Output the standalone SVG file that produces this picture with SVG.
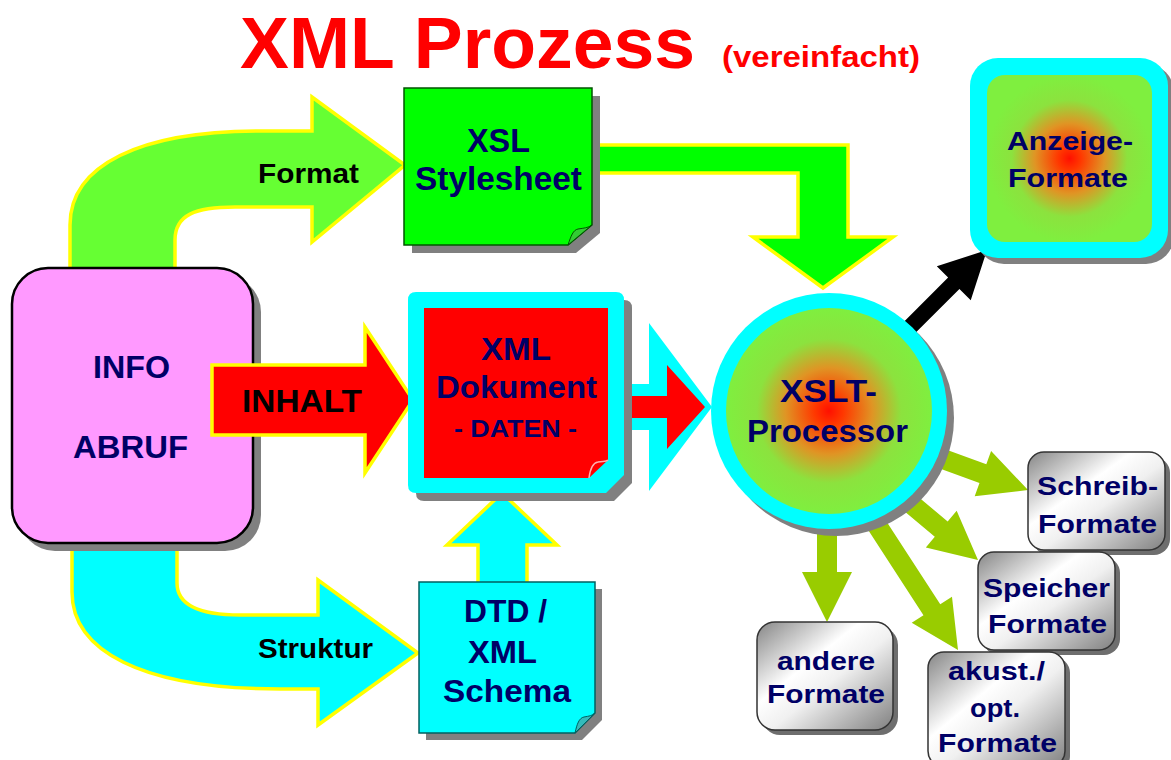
<svg xmlns="http://www.w3.org/2000/svg" width="1171" height="760" viewBox="0 0 1171 760">
<defs>
<style>
.t{font-family:"Liberation Sans",Arial,sans-serif;font-weight:bold;}
.navy{fill:#000066}
.blk{fill:#000000}
.arr{stroke:#FFFF00;stroke-width:3.5;stroke-linejoin:miter}
.sh{fill:#808080}
.gbox{fill:url(#gray);stroke:#333333;stroke-width:1.5}
.gsh{fill:#6e6e6e}
.garr{fill:#99CC00}
</style>
<radialGradient id="rg" cx="0.5" cy="0.5" r="0.5">
<stop offset="0" stop-color="#FF1000"/>
<stop offset="0.14" stop-color="#FF3800"/>
<stop offset="0.42" stop-color="#E09424"/>
<stop offset="0.7" stop-color="#8CE23E"/>
<stop offset="1" stop-color="#7FEF3F"/>
</radialGradient>
<linearGradient id="gray" x1="0" y1="0" x2="1" y2="1">
<stop offset="0" stop-color="#858585"/>
<stop offset="0.38" stop-color="#ffffff"/>
<stop offset="0.55" stop-color="#f0f0f0"/>
<stop offset="1" stop-color="#808080"/>
</linearGradient>
</defs>
<rect width="1171" height="760" fill="#ffffff"/>

<g id="title">
<text class="t" x="240" y="68" font-size="73" fill="#FF0000" textLength="455" lengthAdjust="spacingAndGlyphs">XML Prozess</text>
<text class="t" x="722" y="67" font-size="30" fill="#FF0000" textLength="198" lengthAdjust="spacingAndGlyphs">(vereinfacht)</text>
</g>

<g id="connectors">
<!-- Format -->
<path class="arr" fill="#66FF33" d="M70,272 L70,225 C70,165 140,131 260,131 L312,131 L312,97 L405,165 L312,242 L312,207 L235,207 C195,207 175,215 175,240 L175,272 Z"/>
<text class="t blk" x="258" y="183" font-size="27" textLength="101" lengthAdjust="spacingAndGlyphs">Format</text>
<!-- Struktur -->
<path class="arr" fill="#00FFFF" d="M72,540 L72,592 C72,650 140,689 280,689 L318,689 L318,725 L418,653 L318,580 L318,615 L240,615 C200,615 177,605 177,583 L177,540 Z"/>
<text class="t blk" x="258" y="658" font-size="27" textLength="115" lengthAdjust="spacingAndGlyphs">Struktur</text>
<!-- Stylesheet to processor -->
<path class="arr" fill="#00FF00" d="M598,145 L848,145 L848,237 L893,237 L823,288 L753,237 L798,237 L798,173 L598,173 Z"/>
<!-- DTD up to XML doc -->
<path class="arr" fill="#00FFFF" d="M478,584 L478,545 L447,545 L502,493 L557,545 L527,545 L527,584 Z"/>
<!-- Doc to processor -->
<path fill="#00FFFF" d="M620,384 L649,384 L649,323 L712,407 L649,491 L649,430 L620,430 Z"/>
<path fill="#FF0000" d="M620,396 L667,396 L667,365 L705,407 L667,449 L667,418 L620,418 Z"/>
<!-- output arrows -->
<path class="garr" transform="translate(1028,490) rotate(20)" d="M-110,-10 H-48 V-24 L0,0 L-48,24 V10 H-110 Z"/>
<path class="garr" transform="translate(978,560) rotate(40)" d="M-115,-10 H-48 V-24 L0,0 L-48,24 V10 H-115 Z"/>
<path class="garr" transform="translate(958,650) rotate(57)" d="M-165,-10 H-48 V-24 L0,0 L-48,24 V10 H-165 Z"/>
<path class="garr" transform="translate(827,622) rotate(90)" d="M-100,-10 H-50 V-25 L0,0 L-50,25 V10 H-100 Z"/>
<path fill="#000000" transform="translate(987,250) rotate(-45)" d="M-125,-8 H-47 V-24 L0,0 L-47,24 V8 H-125 Z"/>
</g>

<g id="info">
<rect class="sh" x="19" y="276" width="242" height="275" rx="36"/>
<rect x="12" y="268" width="241" height="275" rx="36" fill="#FF99FF" stroke="#000000" stroke-width="2.5"/>
<text class="t navy" x="93" y="378" font-size="31" textLength="77" lengthAdjust="spacingAndGlyphs">INFO</text>
<text class="t navy" x="73" y="458" font-size="31" textLength="115" lengthAdjust="spacingAndGlyphs">ABRUF</text>
</g>

<g id="inhalt">
<path class="arr" fill="#FF0000" d="M212,365 L365,365 L365,327 L413,400 L365,473 L365,435 L212,435 Z"/>
<text class="t blk" x="242" y="412" font-size="32" textLength="120" lengthAdjust="spacingAndGlyphs">INHALT</text>
</g>

<g id="xsl">
<path class="sh" d="M412,96 H600 V233 L576,253 H412 Z"/>
<path d="M404,88 H592 V225 L568,245 H404 Z" fill="#00FF00" stroke="#005500" stroke-width="1.5"/>
<path d="M568,245 C571,236 573,230 578,229 C584,228 588,228 592,225 Z" fill="#33CC33" stroke="#005500" stroke-width="1"/>
<text class="t navy" x="467" y="152" font-size="33" textLength="63" lengthAdjust="spacingAndGlyphs">XSL</text>
<text class="t navy" x="415" y="190" font-size="33" textLength="167" lengthAdjust="spacingAndGlyphs">Stylesheet</text>
</g>

<g id="xmldoc">
<path class="sh" d="M424,300 H624 Q632,300 632,308 V483 L614,501 H424 Q416,501 416,493 V308 Q416,300 424,300 Z"/>
<path d="M416,292 H616 Q624,292 624,300 V475 L606,493 H416 Q408,493 408,485 V300 Q408,292 416,292 Z" fill="#00FFFF"/>
<path d="M424,308 H608 V460 L589,478 H424 Z" fill="#FF0000"/>
<path d="M589,478 C590,470 592,463 598,462 C603,461 606,462 608,460" fill="none" stroke="#FFB0B0" stroke-width="1.5"/>
<text class="t navy" x="481" y="360" font-size="31" textLength="70" lengthAdjust="spacingAndGlyphs">XML</text>
<text class="t navy" x="436" y="398" font-size="31" textLength="161" lengthAdjust="spacingAndGlyphs">Dokument</text>
<text class="t navy" x="454" y="437" font-size="24" textLength="123" lengthAdjust="spacingAndGlyphs">- DATEN -</text>
</g>

<g id="dtd">
<path class="sh" d="M426,589 H602 V720 L582,740 H426 Z"/>
<path d="M419,582 H595 V713 L575,733 H419 Z" fill="#00FFFF" stroke="#006060" stroke-width="1.5"/>
<path d="M575,733 C577,724 579,718 584,717 C589,716 592,716 595,713 Z" fill="#33BBBB" stroke="#006060" stroke-width="1"/>
<text class="t navy" x="464" y="622" font-size="32" textLength="83" lengthAdjust="spacingAndGlyphs">DTD /</text>
<text class="t navy" x="468" y="663" font-size="32" textLength="69" lengthAdjust="spacingAndGlyphs">XML</text>
<text class="t navy" x="443" y="702" font-size="32" textLength="128" lengthAdjust="spacingAndGlyphs">Schema</text>
</g>

<g id="processor">
<circle class="sh" cx="836" cy="418" r="118"/>
<circle cx="829" cy="411" r="118" fill="#00FFFF"/>
<circle cx="829" cy="411" r="103" fill="url(#rg)"/>
<text class="t navy" x="780" y="402" font-size="31" textLength="97" lengthAdjust="spacingAndGlyphs">XSLT-</text>
<text class="t navy" x="747" y="442" font-size="31" textLength="161" lengthAdjust="spacingAndGlyphs">Processor</text>
</g>

<g id="anzeige">
<rect class="sh" x="976" y="64" width="198" height="200" rx="28"/>
<rect x="970" y="58" width="198" height="200" rx="28" fill="#00FFFF"/>
<rect x="987" y="75" width="165" height="167" rx="18" fill="url(#rg)"/>
<text class="t navy" x="1007" y="150" font-size="26" textLength="126" lengthAdjust="spacingAndGlyphs">Anzeige-</text>
<text class="t navy" x="1008" y="187" font-size="26" textLength="120" lengthAdjust="spacingAndGlyphs">Formate</text>
</g>

<g id="schreib">
<rect class="gsh" x="1033" y="457" width="137" height="98" rx="16"/>
<rect class="gbox" x="1028" y="452" width="137" height="98" rx="16"/>
<text class="t navy" x="1037" y="495" font-size="26" textLength="121" lengthAdjust="spacingAndGlyphs">Schreib-</text>
<text class="t navy" x="1038" y="533" font-size="26" textLength="119" lengthAdjust="spacingAndGlyphs">Formate</text>
</g>

<g id="speicher">
<rect class="gsh" x="983" y="557" width="137" height="98" rx="16"/>
<rect class="gbox" x="978" y="552" width="137" height="98" rx="16"/>
<text class="t navy" x="983" y="597" font-size="26" textLength="127" lengthAdjust="spacingAndGlyphs">Speicher</text>
<text class="t navy" x="988" y="633" font-size="26" textLength="119" lengthAdjust="spacingAndGlyphs">Formate</text>
</g>

<g id="akust">
<rect class="gsh" x="933" y="657" width="137" height="115" rx="16"/>
<rect class="gbox" x="928" y="652" width="137" height="115" rx="16"/>
<text class="t navy" x="948" y="680" font-size="26" textLength="97" lengthAdjust="spacingAndGlyphs">akust./</text>
<text class="t navy" x="970" y="717" font-size="26" textLength="50" lengthAdjust="spacingAndGlyphs">opt.</text>
<text class="t navy" x="938" y="752" font-size="26" textLength="119" lengthAdjust="spacingAndGlyphs">Formate</text>
</g>

<g id="andere">
<rect class="gsh" x="762" y="627" width="136" height="108" rx="18"/>
<rect class="gbox" x="757" y="622" width="136" height="108" rx="18"/>
<text class="t navy" x="777" y="670" font-size="26" textLength="98" lengthAdjust="spacingAndGlyphs">andere</text>
<text class="t navy" x="767" y="703" font-size="26" textLength="118" lengthAdjust="spacingAndGlyphs">Formate</text>
</g>
</svg>
